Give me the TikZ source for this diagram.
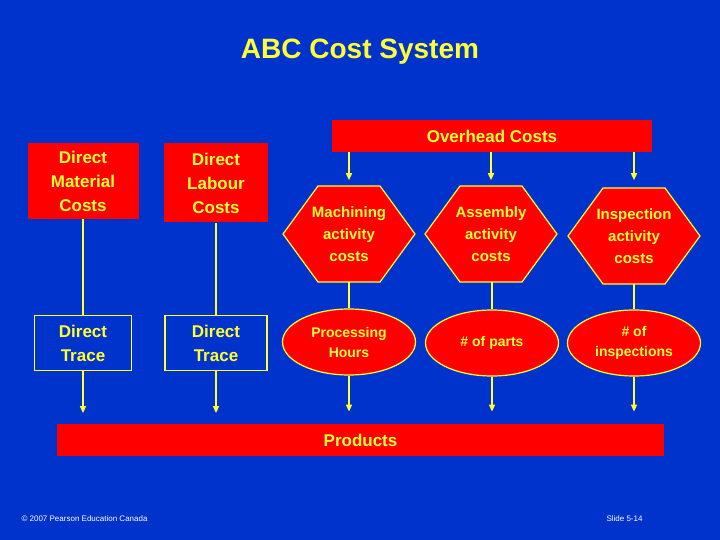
\documentclass[tikz,border=0pt]{standalone}
\usepackage{fontspec}
\setmainfont{Liberation Sans}
\usetikzlibrary{shapes.geometric,arrows.meta}
\definecolor{bg}{RGB}{0,51,204}
\definecolor{rd}{RGB}{255,0,0}
\definecolor{yl}{RGB}{255,255,51}
\begin{document}
\begin{tikzpicture}[x=1pt,y=-1pt,
  redbox/.style={fill=rd,text=yl,font=\bfseries\fontsize{17}{24}\selectfont,align=center,inner sep=0pt},
  tracebox/.style={fill=bg,draw=yl,line width=1.2pt,text=yl,font=\bfseries\fontsize{17}{24}\selectfont,align=center,inner sep=0pt},
  ell/.style={ellipse,fill=rd,draw=yl,line width=1.2pt,text=yl,font=\bfseries\fontsize{14}{20}\selectfont,align=center,inner sep=0pt,minimum width=133pt,minimum height=66pt},
  hextxt/.style={text=yl,font=\bfseries\fontsize{15}{22}\selectfont,align=center,inner sep=0pt,minimum width=133pt,minimum height=96pt},
  conn/.style={draw=yl,line width=1.5pt},
  arr/.style={conn,-{Triangle[length=7pt,width=6pt]}}]
\fill[bg] (0,0) rectangle (720,540);
\useasboundingbox (0,0) rectangle (720,540);
\node[text=yl,font=\bfseries\fontsize{28}{30}\selectfont] (title) at (360,52) {ABC Cost System};
\node[redbox,minimum width=320pt,minimum height=32pt] (oh) at (492,136) {Overhead Costs};
\node[redbox,minimum width=111pt,minimum height=76pt] (dm) at (83,181) {Direct\\Material\\Costs};
\node[redbox,minimum width=104pt,minimum height=79pt] (dl) at (216,183) {Direct\\Labour\\Costs};
\node[tracebox,minimum width=97pt,minimum height=55pt] (t1) at (83,343) {Direct\\Trace};
\node[tracebox,minimum width=102pt,minimum height=55pt] (t2) at (216,343) {Direct\\Trace};
\foreach \n/\x/\y/\t in {h1/349/234/{Machining\\activity\\costs},h2/491/234/{Assembly\\activity\\costs},h3/634/236/{Inspection\\activity\\costs}}{
  \fill[rd,draw=yl,line width=1.2pt] (\x-66,\y) -- (\x-31,\y-48) -- (\x+31,\y-48) -- (\x+66,\y) -- (\x+31,\y+48) -- (\x-31,\y+48) -- cycle;
  \node[hextxt] (\n) at (\x,\y) {\t};
}
\node[ell] (e1) at (349,342) {Processing\\Hours};
\node[ell] (e2) at (492,343) {\# of parts};
\node[ell] (e3) at (634,343) {\# of\\inspections};
\node[redbox,minimum width=607pt,minimum height=32pt] (pr) at (360.5,440) {Products};
\node[text=white,font=\fontsize{8}{9}\selectfont,anchor=west] (c) at (18,519) {© 2007 Pearson Education Canada};
\node[text=white,font=\fontsize{8}{9}\selectfont,anchor=west] (s) at (603,519) {Slide 5-14};
\draw[conn] (dm.south) -- (t1.north);
\draw[conn] (dl.south) -- (t2.north);
\draw[arr] (t1.south) -- ++(0,42);
\draw[arr] (t2.south) -- ++(0,42);
\draw[arr] (oh.south -| h1) -- ++(0,28);
\draw[arr] (oh.south -| h2) -- ++(0,28);
\draw[arr] (oh.south -| h3) -- ++(0,28);
\draw[conn] (h1.south) -- (e1.north);
\draw[conn] (e2.north |- h2.south) -- (e2.north);
\draw[conn] (h3.south) -- (e3.north);
\draw[arr] (e1.south) -- ++(0,36);
\draw[arr] (e2.south) -- ++(0,35);
\draw[arr] (e3.south) -- ++(0,35);
\end{tikzpicture}
\end{document}
